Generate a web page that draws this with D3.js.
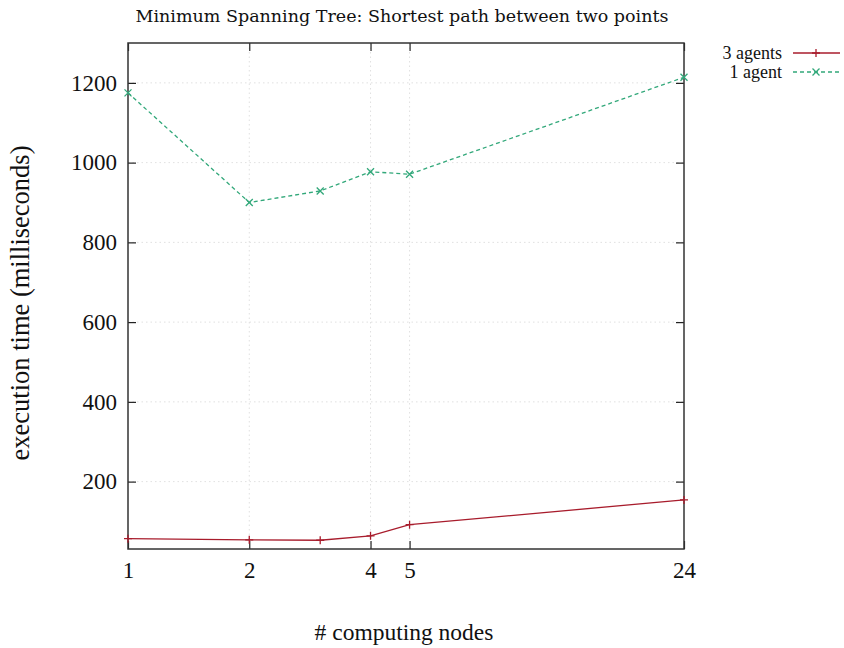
<!DOCTYPE html>
<html><head><meta charset="utf-8">
<script src="https://cdn.jsdelivr.net/npm/d3@7"></script>
<style>body{margin:0;background:#fff}svg{display:block}text{font-family:"Liberation Serif","Times New Roman",serif;fill:#111}</style>
</head><body><svg id="c" width="844" height="648"></svg>
<script>
const nodes = [1, 2, 3, 4, 5, 24];
const agents3 = [57, 54, 53, 64, 92, 154];
const agents1 = [1175, 900, 929, 977, 971, 1214];
const xTicks = [1, 2, 4, 5, 24];
const yTicks = [200, 400, 600, 800, 1000, 1200];
const seriesNames = ["3 agents", "1 agent"];

const svg = d3.select("#c");
const L = 128, R = 684, T = 43, B = 549;
const x = d3.scaleLog().domain([1, 24]).range([L, R]);
const y = d3.scaleLinear().domain([31, 1300]).range([B, T]);

// grid
svg.append("g").selectAll("line").data(xTicks.slice(1, -1)).join("line")
  .attr("x1", d => x(d)).attr("x2", d => x(d)).attr("y1", T).attr("y2", B)
  .attr("stroke", "#d8d8d8").attr("stroke-width", 0.8).attr("stroke-dasharray", "1.5,3");
svg.append("g").selectAll("line").data(yTicks).join("line")
  .attr("x1", L).attr("x2", R).attr("y1", d => y(d)).attr("y2", d => y(d))
  .attr("stroke", "#d8d8d8").attr("stroke-width", 0.8).attr("stroke-dasharray", "1.5,3");

// axes
const fmt = d3.format("d");
const gx = svg.append("g").attr("transform", `translate(0,${B})`)
  .call(d3.axisBottom(x).tickValues(xTicks).tickFormat(fmt).tickSize(-8));
const gxt = svg.append("g").attr("transform", `translate(0,${T})`)
  .call(d3.axisTop(x).tickValues(xTicks).tickFormat("").tickSize(-8));
const gy = svg.append("g").attr("transform", `translate(${L},0)`)
  .call(d3.axisLeft(y).tickValues(yTicks).tickFormat(fmt).tickSize(-8).tickPadding(11));
const gyr = svg.append("g").attr("transform", `translate(${R},0)`)
  .call(d3.axisRight(y).tickValues(yTicks).tickFormat("").tickSize(-8));
[gx, gxt, gy, gyr].forEach(g => {
  g.select(".domain").remove();
  g.selectAll("line").attr("stroke", "#222").attr("stroke-width", 1.2);
  g.selectAll("text").style("font-family", "'Liberation Serif',serif").style("font-size", "23px").attr("fill", "#111");
});
gx.selectAll("text").attr("y", 29).attr("dy", 0);
svg.append("rect").attr("x", L).attr("y", T).attr("width", R - L).attr("height", B - T)
  .attr("fill", "none").attr("stroke", "#333").attr("stroke-width", 1.5);

const red = "#a81c2c", green = "#32a87a";
const line = d3.line().x(d => x(d[0])).y(d => y(d[1]));
const d3a = nodes.map((n, i) => [n, agents3[i]]);
const d1a = nodes.map((n, i) => [n, agents1[i]]);

svg.append("path").datum(d3a).attr("d", line).attr("fill", "none").attr("stroke", red).attr("stroke-width", 1.3);
svg.append("path").datum(d1a).attr("d", line).attr("fill", "none").attr("stroke", green).attr("stroke-width", 1.3).attr("stroke-dasharray", "4,3");

function plus(g, cx, cy, c) {
  g.append("path").attr("d", `M${cx-4},${cy}H${cx+4}M${cx},${cy-4}V${cy+4}`).attr("stroke", c).attr("stroke-width", 1.3);
}
function cross(g, cx, cy, c) {
  g.append("path").attr("d", `M${cx-3.5},${cy-3.5}L${cx+3.5},${cy+3.5}M${cx-3.5},${cy+3.5}L${cx+3.5},${cy-3.5}`).attr("stroke", c).attr("stroke-width", 1.3);
}
const gm = svg.append("g");
d3a.forEach(d => plus(gm, x(d[0]), y(d[1]), red));
d1a.forEach(d => cross(gm, x(d[0]), y(d[1]), green));

// legend
const lg = svg.append("g");
[[seriesNames[0], 53, red, false], [seriesNames[1], 72, green, true]].forEach(([name, ly, c, dashed]) => {
  lg.append("text").attr("x", 782).attr("y", ly).attr("dy", "0.33em").attr("text-anchor", "end")
    .style("font-size", "18px").text(name);
  lg.append("line").attr("x1", 793).attr("x2", 840).attr("y1", ly).attr("y2", ly)
    .attr("stroke", c).attr("stroke-width", 1.3).attr("stroke-dasharray", dashed ? "4,3" : null);
  if (dashed) cross(lg, 816, ly, c); else plus(lg, 816, ly, c);
});

// titles
svg.append("text").attr("x", 402).attr("y", 22).attr("text-anchor", "middle")
  .style("font-family", "'DejaVu Serif',serif").style("font-size", "17.5px")
  .text("Minimum Spanning Tree: Shortest path between two points");
svg.append("text").attr("x", 404).attr("y", 640).attr("text-anchor", "middle").style("font-size", "23.5px")
  .text("# computing nodes");
svg.append("text").attr("transform", "translate(29,303) rotate(-90)").attr("text-anchor", "middle").style("font-size", "26.5px")
  .text("execution time (milliseconds)");
</script></body></html>
